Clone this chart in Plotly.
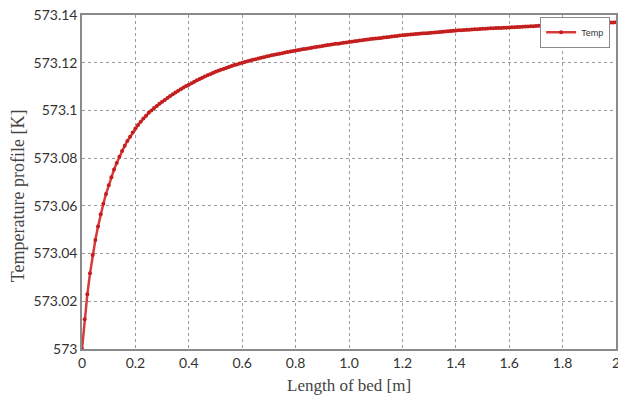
import plotly.graph_objects as go

# Bed position [m] sampled every 0.01 m
bed_length = [round(i * 0.01, 2) for i in range(201)]

base_temp = 573.0
# Temperature rise above 573 K [K]
temp_rise = [
    0.0000, 0.0125, 0.0229, 0.0317, 0.0394, 0.0457, 0.0513, 0.0565, 0.0609, 0.0650,
    0.0686, 0.0720, 0.0752, 0.0780, 0.0806, 0.0830, 0.0852, 0.0872, 0.0890, 0.0908,
    0.0924, 0.0939, 0.0953, 0.0966, 0.0978, 0.0990, 0.1000, 0.1010, 0.1019, 0.1028,
    0.1036, 0.1044, 0.1052, 0.1060, 0.1068, 0.1075, 0.1082, 0.1089, 0.1096, 0.1102,
    0.1108, 0.1114, 0.1120, 0.1126, 0.1132, 0.1137, 0.1142, 0.1147, 0.1152, 0.1157,
    0.1162, 0.1166, 0.1170, 0.1174, 0.1178, 0.1182, 0.1186, 0.1190, 0.1193, 0.1197,
    0.1200, 0.1203, 0.1206, 0.1209, 0.1212, 0.1215, 0.1218, 0.1221, 0.1223, 0.1226,
    0.1228, 0.1231, 0.1233, 0.1236, 0.1238, 0.1240, 0.1243, 0.1245, 0.1247, 0.1249,
    0.1251, 0.1253, 0.1255, 0.1257, 0.1259, 0.1261, 0.1263, 0.1265, 0.1267, 0.1268,
    0.1270, 0.1272, 0.1274, 0.1275, 0.1277, 0.1279, 0.1280, 0.1282, 0.1284, 0.1285,
    0.1287, 0.1288, 0.1290, 0.1291, 0.1293, 0.1294, 0.1296, 0.1297, 0.1299, 0.1300,
    0.1302, 0.1303, 0.1304, 0.1306, 0.1307, 0.1308, 0.1310, 0.1311, 0.1312, 0.1314,
    0.1315, 0.1316, 0.1317, 0.1318, 0.1319, 0.1320, 0.1321, 0.1322, 0.1323, 0.1324,
    0.1325, 0.1326, 0.1327, 0.1328, 0.1329, 0.1330, 0.1331, 0.1332, 0.1333, 0.1334,
    0.1335, 0.1336, 0.1336, 0.1337, 0.1338, 0.1338, 0.1339, 0.1340, 0.1340, 0.1341,
    0.1342, 0.1342, 0.1343, 0.1344, 0.1344, 0.1345, 0.1346, 0.1346, 0.1347, 0.1347,
    0.1348, 0.1349, 0.1349, 0.1350, 0.1350, 0.1351, 0.1352, 0.1352, 0.1353, 0.1353,
    0.1354, 0.1355, 0.1355, 0.1356, 0.1356, 0.1357, 0.1357, 0.1358, 0.1358, 0.1359,
    0.1360, 0.1360, 0.1361, 0.1361, 0.1362, 0.1362, 0.1363, 0.1363, 0.1364, 0.1364,
    0.1365, 0.1365, 0.1366, 0.1366, 0.1367, 0.1367, 0.1368, 0.1368, 0.1369, 0.1369,
    0.1370,
]
temperature = [round(base_temp + r, 4) for r in temp_rise]

x_tick_vals = [0, 0.2, 0.4, 0.6, 0.8, 1.0, 1.2, 1.4, 1.6, 1.8, 2.0]
x_tick_text = ["0", "0.2", "0.4", "0.6", "0.8", "1.0", "1.2", "1.4", "1.6", "1.8", "2"]
y_tick_vals = [573.0, 573.02, 573.04, 573.06, 573.08, 573.1, 573.12, 573.14]
y_tick_text = ["573", "573.02", "573.04", "573.06", "573.08", "573.1", "573.12", "573.14"]

fig = go.Figure()
fig.add_trace(go.Scatter(
    x=bed_length, y=temperature, mode="lines+markers", name="Temp",
    line=dict(color="#d83a3a", width=2.5),
    marker=dict(color="#c41e1e", size=4, symbol="circle"),
))

axis_common = dict(
    showline=True, mirror=True, linecolor="#8a8a8a", linewidth=1.5,
    showgrid=True, gridcolor="#9a9a9a", gridwidth=1, griddash="dot",
    zeroline=False, ticks="", automargin=False, ticklabeloverflow="allow",
    tickfont=dict(family="Lato", size=14, color="#333333"),
)

fig.update_xaxes(
    range=[0, 2], tickmode="array", tickvals=x_tick_vals, ticktext=x_tick_text,
    **axis_common,
)
fig.update_yaxes(
    range=[573.0, 573.14], tickmode="array", tickvals=y_tick_vals, ticktext=y_tick_text,
    **axis_common,
)

fig.add_annotation(
    text="Length of bed [m]", xref="paper", yref="paper",
    x=0.5, y=-0.075, xanchor="center", yanchor="top",
    showarrow=False, font=dict(family="Liberation Serif", size=17, color="#444444"),
)
fig.add_annotation(
    text="Temperature profile [K]", xref="paper", yref="paper",
    x=-0.12, y=0.46, xanchor="center", yanchor="middle", textangle=-90,
    showarrow=False, font=dict(family="Liberation Serif", size=18, color="#444444"),
)

fig.update_layout(
    width=618, height=399,
    margin=dict(l=82, r=2, t=15, b=50),
    paper_bgcolor="white", plot_bgcolor="white",
    showlegend=True,
    legend=dict(
        x=0.989, y=0.995, xanchor="right", yanchor="top",
        bgcolor="white", bordercolor="#8a8a8a", borderwidth=1,
        font=dict(family="Liberation Sans", size=9, color="#333333"),
        itemwidth=30,
    ),
)

fig.write_html(
    "out.html",
    config={"displayModeBar": False},
    post_script="document.body.style.margin='0';document.body.style.overflow='hidden';",
)
